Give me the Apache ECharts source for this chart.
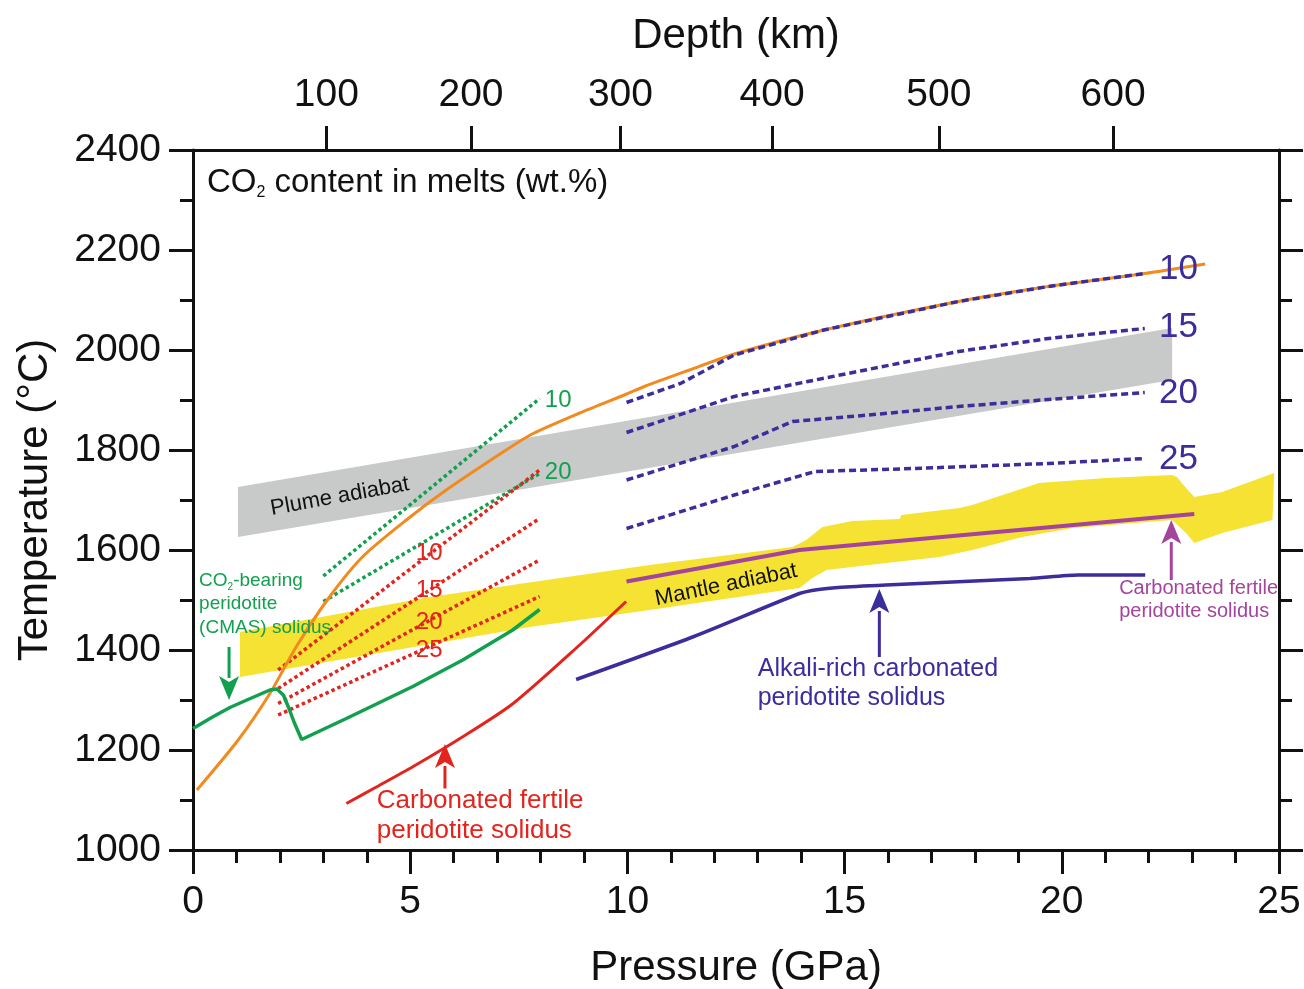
<!DOCTYPE html>
<html lang="en">
<head>
    <meta charset="UTF-8">
    <title>CO2 melts - P-T diagram</title>
    <script src="https://cdn.jsdelivr.net/npm/echarts@6.0.0/dist/echarts.min.js"></script>
    <style>
        html, body { margin: 0; padding: 0; background: #fff; }
        #chart { width: 1304px; height: 989px; }
    </style>
</head>
<body>
<div id="chart"></div>

<script>
    // depth scale on the top axis (km -> GPa)
    var depthKm = [100, 200, 300, 400, 500, 600];
    var depthGPa = [3.07, 6.40, 9.84, 13.33, 17.17, 21.18];

    // bands [P (GPa), T (C)]
    var plumeBand = [[1.035, 1726], [22.54, 2044], [22.54, 1940], [1.035, 1626]];
    var mantleBand = [
        [1.08, 1436], [5.45, 1506], [10.51, 1570], [13.80, 1606], [14.12, 1620], [14.49, 1646],
        [15.18, 1658], [16.26, 1662], [16.31, 1670], [17.64, 1684], [17.94, 1690], [19.48, 1734],
        [21.02, 1744], [22.54, 1750], [22.65, 1746], [22.86, 1724], [23.05, 1706], [23.69, 1716],
        [24.89, 1754], [24.85, 1660], [23.69, 1634], [23.05, 1614], [22.86, 1634], [22.54, 1660],
        [20.24, 1644], [19.09, 1626], [17.94, 1600], [17.18, 1586], [15.96, 1574], [14.58, 1560],
        [14.26, 1544], [13.96, 1524], [10.51, 1480], [7.75, 1446], [1.08, 1346]
    ];

    // solidi
    var orangeCurve = [
        [0.09, 1120], [1.04, 1220], [1.77, 1313], [2.38, 1407], [3.15, 1507], [3.91, 1587],
        [4.91, 1660], [5.83, 1720], [7.21, 1800], [7.83, 1833], [8.9, 1874], [9.98, 1912],
        [10.39, 1927], [11.43, 1960], [12.46, 1992], [14.52, 2040], [17.62, 2097], [19.69, 2127],
        [21.91, 2153], [23.3, 2172]
    ];
    var cmasSolidus = [
        [0.0, 1243], [0.47, 1267], [0.85, 1285], [1.24, 1300], [1.77, 1320], [1.93, 1322],
        [2.08, 1310], [2.2, 1285], [2.33, 1255], [2.50, 1221], [3.53, 1263], [5.06, 1327],
        [6.21, 1380], [7.36, 1440], [7.98, 1481]
    ];
    var fertileSolidus = [[3.53, 1093], [4.2, 1125], [5.07, 1167], [6.22, 1227], [7.37, 1293], [8.9, 1410], [9.97, 1497]];
    var alkaliSolidus = [
        [8.82, 1341], [11.53, 1427], [13.96, 1513], [14.4, 1521], [14.85, 1525], [15.95, 1530],
        [19.27, 1543], [20.37, 1550], [21.92, 1550]
    ];
    var fertileSolidusHP = [[9.98, 1537], [13.96, 1600], [23.05, 1672]];

    // CO2 isopleths (wt.%)
    var cmasCO2_10 = [[3.0, 1548], [7.98, 1903]];
    var cmasCO2_20 = [[3.0, 1497], [7.98, 1753]];
    var fertileCO2_10 = [[1.96, 1360], [7.98, 1760]];
    var fertileCO2_15 = [[1.96, 1323], [7.98, 1663]];
    var fertileCO2_20 = [[1.96, 1293], [7.98, 1580]];
    var fertileCO2_25 = [[1.96, 1270], [7.98, 1507]];
    var alkaliCO2_10 = [[9.98, 1895], [11.22, 1933], [12.46, 1990], [14.52, 2040], [17.62, 2097], [19.69, 2127], [21.91, 2153]];
    var alkaliCO2_15 = [[9.98, 1835], [12.46, 1907], [14.32, 1940], [17.62, 1997], [19.69, 2023], [21.91, 2043]];
    var alkaliCO2_20 = [[9.98, 1740], [12.46, 1807], [13.8, 1857], [15.56, 1870], [17.62, 1887], [19.69, 1901], [21.91, 1915]];
    var alkaliCO2_25 = [[9.98, 1643], [12.46, 1710], [14.32, 1757], [16.59, 1763], [19.69, 1773], [21.91, 1783]];

    var FONT = '"Liberation Sans", Arial, Helvetica, sans-serif';
    var GREEN = '#12a04e', RED = '#e3241d', BLUE = '#3b2d9c', PURPLE = '#a4449c', ORANGE = '#f28a1e';

    var notes = [
        {p: 0.32, t: 2334, size: 33, color: '#111', text: '{a|CO}{s|2}{a| content in melts (wt.%)}',
            rich: {a: {fontSize: 33, lineHeight: 36, fill: '#111'}, s: {fontSize: 16, lineHeight: 16, verticalAlign: 'bottom', fill: '#111'}}},
        {p: 3.38, t: 1707, size: 22, color: '#111', rot: 10.3, align: 'center', text: 'Plume adiabat'},
        {p: 12.27, t: 1530, size: 22, color: '#111', rot: 11.5, align: 'center', text: 'Mantle adiabat'},
        {p: 0.14, t: 1492, size: 19, color: GREEN,
            text: '{g|CO}{s|2}{g|-bearing}\n{g|peridotite}\n{g|(CMAS) solidus}',
            rich: {g: {fontSize: 19, lineHeight: 23.5, fill: GREEN}, s: {fontSize: 10, lineHeight: 10, verticalAlign: 'bottom', fill: GREEN}}},
        {p: 4.23, t: 1068, size: 26, color: RED, lh: 30, text: 'Carbonated fertile\nperidotite solidus'},
        {p: 13.0, t: 1333, size: 25, color: BLUE, lh: 29, text: 'Alkali-rich carbonated\nperidotite solidus'},
        {p: 21.32, t: 1500, size: 20, color: PURPLE, lh: 23, text: 'Carbonated fertile\nperidotite solidus'},
        {p: 8.1, t: 1900, size: 24, color: GREEN, text: '10'},
        {p: 8.1, t: 1756, size: 24, color: GREEN, text: '20'},
        {p: 5.13, t: 1594, size: 24, color: RED, text: '10'},
        {p: 5.13, t: 1520, size: 24, color: RED, text: '15'},
        {p: 5.13, t: 1456, size: 24, color: RED, text: '20'},
        {p: 5.13, t: 1400, size: 24, color: RED, text: '25'},
        {p: 22.24, t: 2162, size: 35, color: BLUE, text: '10'},
        {p: 22.24, t: 2046, size: 35, color: BLUE, text: '15'},
        {p: 22.24, t: 1914, size: 35, color: BLUE, text: '20'},
        {p: 22.24, t: 1782, size: 35, color: BLUE, text: '25'}
    ];

    // vertical arrows: [P, T tail, T tip]
    var arrows = [
        {p: 0.83, from: 1406, to: 1300, color: GREEN},
        {p: 5.80, from: 1123, to: 1212, color: RED},
        {p: 15.80, from: 1386, to: 1522, color: BLUE},
        {p: 22.52, from: 1540, to: 1660, color: PURPLE}
    ];

    function band(pts, color) {
        return {
            type: 'custom', silent: true, z: 1, clip: true,
            data: [pts[0]],
            renderItem: function (params, api) {
                return {
                    type: 'polygon',
                    shape: {points: pts.map(function (p) { return api.coord(p); })},
                    style: {fill: color}
                };
            }
        };
    }

    function line(data, color, width, dash, z, smooth) {
        return {
            type: 'line', data: data, symbol: 'none', silent: true, z: z || 3,
            smooth: smooth || false,
            lineStyle: {color: color, width: width, type: dash || 'solid', cap: 'butt'}
        };
    }

    var chart = echarts.init(document.getElementById('chart'));

    var axisBase = {
        axisLine: {onZero: false, lineStyle: {color: '#111', width: 3}},
        splitLine: {show: false},
        nameTextStyle: {color: '#111', fontSize: 42, fontFamily: FONT}
    };

    var option = {
        animation: false,
        backgroundColor: '#fff',
        grid: {left: 193, right: 25, top: 150, bottom: 139, containLabel: false, outerBoundsMode: 'none'},
        xAxis: [
            Object.assign({}, axisBase, {
                type: 'value', position: 'bottom', min: 0, max: 25, interval: 5,
                name: 'Pressure (GPa)', nameLocation: 'middle', nameGap: 97,
                axisTick: {inside: false, length: 24, lineStyle: {color: '#111', width: 3}},
                minorTick: {show: true, splitNumber: 5, length: 13, lineStyle: {color: '#111', width: 3}},
                axisLabel: {color: '#111', fontSize: 39, fontFamily: FONT, margin: 33}
            }),
            Object.assign({}, axisBase, {
                type: 'value', position: 'top', min: 0, max: 25,
                name: 'Depth (km)', nameLocation: 'middle', nameGap: 93,
                axisTick: {inside: false, length: 24, customValues: depthGPa, lineStyle: {color: '#111', width: 3}},
                axisLabel: {
                    color: '#111', fontSize: 39, fontFamily: FONT, margin: 35, customValues: depthGPa,
                    formatter: function (v) {
                        var i = depthGPa.indexOf(v);
                        return i >= 0 ? String(depthKm[i]) : '';
                    }
                }
            })
        ],
        yAxis: [
            Object.assign({}, axisBase, {
                type: 'value', position: 'left', min: 1000, max: 2400, interval: 200,
                name: 'Temperature (°C)', nameLocation: 'middle', nameGap: 137, nameRotate: 90,
                axisTick: {inside: false, length: 24, lineStyle: {color: '#111', width: 3}},
                minorTick: {show: true, splitNumber: 2, length: 13, lineStyle: {color: '#111', width: 3}},
                axisLabel: {color: '#111', fontSize: 39, fontFamily: FONT, margin: 32,
                    formatter: function (v) { return String(v); }}
            }),
            Object.assign({}, axisBase, {
                type: 'value', position: 'right', min: 1000, max: 2400, interval: 200,
                axisTick: {inside: false, length: 24, lineStyle: {color: '#111', width: 3}},
                minorTick: {show: true, splitNumber: 2, length: 13, lineStyle: {color: '#111', width: 3}},
                axisLabel: {show: false}
            })
        ],
        series: [
            band(plumeBand, '#c8c9c9'),
            band(mantleBand, '#f5e232'),
            line(cmasCO2_10, GREEN, 3.5, [3.5, 3]),
            line(cmasCO2_20, GREEN, 3.5, [3.5, 3]),
            line(fertileCO2_10, RED, 3.5, [3.5, 3]),
            line(fertileCO2_15, RED, 3.5, [3.5, 3]),
            line(fertileCO2_20, RED, 3.5, [3.5, 3]),
            line(fertileCO2_25, RED, 3.5, [3.5, 3]),
            line(orangeCurve, ORANGE, 3, null, 3, 0.25),
            line(alkaliCO2_10, BLUE, 3.5, [7, 4], 4),
            line(alkaliCO2_15, BLUE, 3.5, [7, 4], 4),
            line(alkaliCO2_20, BLUE, 3.5, [7, 4], 4),
            line(alkaliCO2_25, BLUE, 3.5, [7, 4], 4),
            line(cmasSolidus, GREEN, 3.5),
            line(fertileSolidus, RED, 3, null, 3, 0.25),
            line(alkaliSolidus, BLUE, 3.5, null, 3, 0.25),
            line(fertileSolidusHP, PURPLE, 4),
            {
                type: 'custom', silent: true, z: 6, clip: false,
                data: arrows.map(function (a) { return [a.p, a.from]; }),
                renderItem: function (params, api) {
                    var a = arrows[params.dataIndex];
                    var tail = api.coord([a.p, a.from]);
                    var tip = api.coord([a.p, a.to]);
                    var dir = tip[1] > tail[1] ? 1 : -1;
                    var headLen = 22, headW = 10;
                    var base = tip[1] - dir * headLen;
                    return {
                        type: 'group',
                        children: [
                            {type: 'line', shape: {x1: tail[0], y1: tail[1], x2: tip[0], y2: base},
                                style: {stroke: a.color, lineWidth: 3}},
                            {type: 'polygon', shape: {points: [[tip[0], tip[1]], [tip[0] - headW, base - dir * 2], [tip[0], base + dir * 4], [tip[0] + headW, base - dir * 2]]},
                                style: {fill: a.color}}
                        ]
                    };
                }
            },
            {
                type: 'custom', silent: true, z: 7, clip: false,
                data: notes.map(function (n) { return [n.p, n.t]; }),
                renderItem: function (params, api) {
                    var n = notes[params.dataIndex];
                    var pt = api.coord([n.p, n.t]);
                    var style = {
                        text: n.text, fill: n.color, fontSize: n.size, fontFamily: FONT,
                        align: n.align || 'left', verticalAlign: 'middle'
                    };
                    if (n.lh) style.lineHeight = n.lh;
                    if (n.rich) {
                        style.rich = n.rich;
                        for (var k in n.rich) n.rich[k].fontFamily = FONT;
                    }
                    return {
                        type: 'text', x: pt[0], y: pt[1],
                        rotation: (n.rot || 0) * Math.PI / 180,
                        style: style
                    };
                }
            }
        ]
    };

    chart.setOption(option);
</script>
</body>
</html>
